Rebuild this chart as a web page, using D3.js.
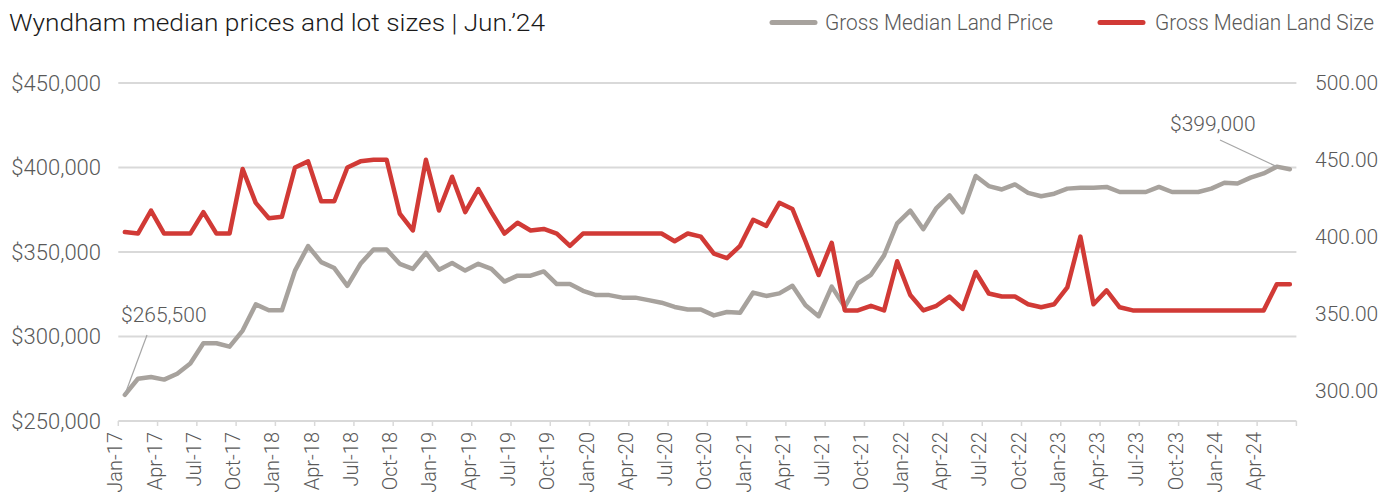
<!DOCTYPE html>
<html>
<head>
    <meta charset="utf-8">
    <title>Wyndham median prices and lot sizes</title>
    <style type="text/css">
        body{
            margin:0;
            background:#fff;
        }
        svg text{
            font-family: Roboto, "Liberation Sans", sans-serif;
            font-weight: 300;
        }
    </style>
    <script src="https://cdn.jsdelivr.net/npm/d3@7"></script>
</head>
<body>

<div id="chart"></div>

<script type="text/javascript">

var width  = 1396,
    height = 493;

// monthly, Jan-17 .. Jun-24
var months = d3.timeMonths(new Date(2017, 0, 1), new Date(2024, 6, 1));

var tickLabels = ['Jan-17','Apr-17','Jul-17','Oct-17','Jan-18','Apr-18','Jul-18','Oct-18',
    'Jan-19','Apr-19','Jul-19','Oct-19','Jan-20','Apr-20','Jul-20','Oct-20',
    'Jan-21','Apr-21','Jul-21','Oct-21','Jan-22','Apr-22','Jul-22','Oct-22',
    'Jan-23','Apr-23','Jul-23','Oct-23','Jan-24','Apr-24'];

// gross median land price ($)
var landPrice = [
    265500, 275000, 276000, 274500, 278000, 284000, 296000, 296000, 294000, 303500, 319000, 315500,
    315500, 339000, 353500, 344000, 340500, 330000, 343000, 351500, 351500, 343000, 340000, 349500,
    339500, 343500, 339000, 343000, 340000, 332500, 336000, 336000, 338500, 331000, 331000, 327000,
    324500, 324500, 323000, 323000, 321500, 320000, 317500, 316000, 316000, 312500, 314500, 314000,
    326000, 324000, 325500, 330000, 318500, 312000, 329500, 317500, 331500, 336500, 348000, 367000,
    374500, 363500, 376000, 383500, 373500, 395000, 389000, 387000, 390000, 385000, 383000, 384500,
    387500, 388000, 388000, 388500, 385500, 385500, 385500, 388500, 385500, 385500, 385500, 387500,
    391000, 390500, 394000, 396500, 400500, 399000
];

// gross median land size (sqm)
var landSize = [
    403, 402, 417, 402, 402, 402, 416, 402, 402, 444, 422, 412,
    413, 445, 449, 423, 423, 445, 449, 450, 450, 415, 404, 450,
    417, 439, 416, 431, 416, 402, 409, 404, 405, 402, 394, 402,
    402, 402, 402, 402, 402, 402, 397, 402, 400, 389, 386, 394,
    411, 407, 422, 418, 397, 375, 396, 352, 352, 355, 352, 384,
    362, 352, 355, 361, 353, 377, 363, 361, 361, 356, 354, 356,
    367, 400, 356, 365, 354, 352, 352, 352, 352, 352, 352, 352,
    352, 352, 352, 352, 369, 369
];

var priceTicks = [250000, 300000, 350000, 400000, 450000];
var sizeTicks  = [300, 350, 400, 450, 500];

var grey = '#a7a29d',
    red  = '#d13a36',
    gridColour = '#d9d9d9',
    textColour = '#595959';

var svg = d3.select('#chart')
    .append('svg')
    .attr('width', width)
    .attr('height', height);

var x = d3.scaleBand()
    .domain(d3.range(months.length))
    .range([118.3, 1296.4]);

var yLeft = d3.scaleLinear()
    .domain([250000, 450000])
    .range([421, 83]);

var yRight = d3.scaleLinear()
    .domain([280, 500])
    .range([421, 83]);

function cx(d, i){ return x(i) + x.bandwidth()/2 }

// gridlines
svg.append('g')
    .selectAll('line')
    .data(priceTicks)
    .join('line')
    .attr('x1', x.range()[0])
    .attr('x2', x.range()[1])
    .attr('y1', yLeft)
    .attr('y2', yLeft)
    .attr('stroke', gridColour)
    .attr('stroke-width', 2);

// left axis
var fmtPrice = d3.format('$,.0f');
var leftAxis = svg.append('g')
    .attr('transform', 'translate(101,0)')
    .call(d3.axisLeft(yLeft).tickValues(priceTicks).tickFormat(fmtPrice).tickSize(0).tickPadding(0));
leftAxis.select('.domain').remove();
leftAxis.selectAll('text')
    .attr('fill', textColour)
    .style('font-size', '22px');

// right axis
var rightAxis = svg.append('g')
    .attr('transform', 'translate(1315,0)')
    .call(d3.axisRight(yRight).tickValues(sizeTicks).tickFormat(d3.format('.2f')).tickSize(0).tickPadding(0));
rightAxis.select('.domain').remove();
rightAxis.selectAll('text')
    .attr('fill', textColour)
    .style('font-size', '21px');

// x axis: ticks between categories every 3 months
var tickIdx = d3.range(0, months.length, 3);
var bottom = svg.append('g');
bottom.selectAll('line.tick')
    .data(tickIdx.concat([months.length]))
    .join('line')
    .attr('class', 'tick')
    .attr('x1', function(i){ return i < months.length ? x(i) : x.range()[1] })
    .attr('x2', function(i){ return i < months.length ? x(i) : x.range()[1] })
    .attr('y1', 421)
    .attr('y2', 426)
    .attr('stroke', gridColour)
    .attr('stroke-width', 1.5);

bottom.selectAll('text')
    .data(tickIdx)
    .join('text')
    .attr('transform', function(i){ return 'translate(' + (x(i) + 4) + ',432) rotate(-90)' })
    .attr('text-anchor', 'end')
    .attr('fill', textColour)
    .style('font-size', '20px')
    .text(function(i, k){ return tickLabels[k] });

// lines
var priceLine = d3.line().x(cx).y(function(d){ return yLeft(d) });
var sizeLine  = d3.line().x(cx).y(function(d){ return yRight(d) });

svg.append('path')
    .datum(landPrice)
    .attr('d', priceLine)
    .attr('fill', 'none')
    .attr('stroke', grey)
    .attr('stroke-width', 4.5)
    .attr('stroke-linejoin', 'round')
    .attr('stroke-linecap', 'round');

svg.append('path')
    .datum(landSize)
    .attr('d', sizeLine)
    .attr('fill', 'none')
    .attr('stroke', red)
    .attr('stroke-width', 4.5)
    .attr('stroke-linejoin', 'round')
    .attr('stroke-linecap', 'round');

// annotations
var first = 0, last = landPrice.length - 1;

svg.append('line')
    .attr('x1', 147).attr('y1', 335)
    .attr('x2', cx(null, first)).attr('y2', yLeft(landPrice[first]))
    .attr('stroke', '#a6a6a6').attr('stroke-width', 1.2);
svg.append('text')
    .attr('x', 121).attr('y', 322)
    .attr('fill', textColour)
    .style('font-size', '21px')
    .text(fmtPrice(landPrice[first]));

svg.append('line')
    .attr('x1', 1220).attr('y1', 140)
    .attr('x2', cx(null, last - 1)).attr('y2', yLeft(landPrice[last - 1]))
    .attr('stroke', '#a6a6a6').attr('stroke-width', 1.2);
svg.append('text')
    .attr('x', 1170).attr('y', 131)
    .attr('fill', textColour)
    .style('font-size', '21px')
    .text(fmtPrice(landPrice[last]));

// title
svg.append('text')
    .attr('x', 9).attr('y', 31)
    .attr('fill', '#1a1a1a')
    .attr('textLength', 536)
    .attr('lengthAdjust', 'spacingAndGlyphs')
    .style('font-size', '24px')
    .text('Wyndham median prices and lot sizes | Jun.\u201924');

// legend
var legend = [
    {name: 'Gross Median Land Price', colour: grey, x: 772, tx: 825, w: 228},
    {name: 'Gross Median Land Size',  colour: red,  x: 1100, tx: 1155, w: 219}
];
var lg = svg.append('g').selectAll('g')
    .data(legend)
    .join('g');
lg.append('line')
    .attr('x1', function(d){ return d.x })
    .attr('x2', function(d){ return d.x + 43 })
    .attr('y1', 22.5).attr('y2', 22.5)
    .attr('stroke', function(d){ return d.colour })
    .attr('stroke-width', 5)
    .attr('stroke-linecap', 'round');
lg.append('text')
    .attr('x', function(d){ return d.tx })
    .attr('y', 30)
    .attr('fill', textColour)
    .attr('textLength', function(d){ return d.w })
    .attr('lengthAdjust', 'spacingAndGlyphs')
    .style('font-size', '22px')
    .text(function(d){ return d.name });

</script>
</body>
</html>
